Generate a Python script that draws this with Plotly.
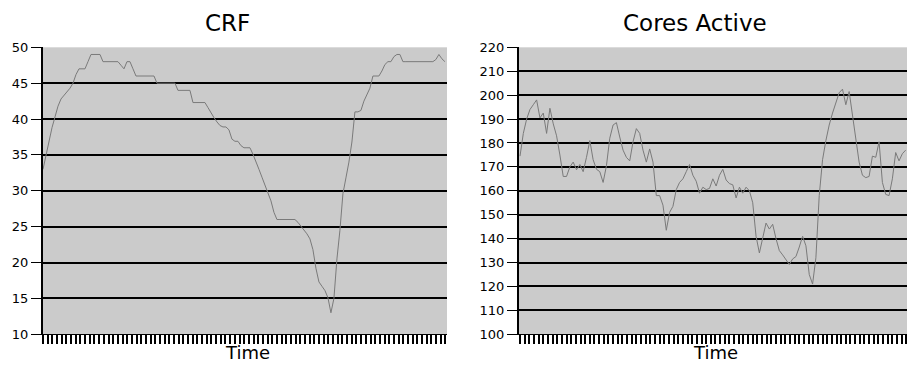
import plotly.graph_objects as go

# CRF samples (one per time step)
crf_values = [
    33, 35, 37, 38.8, 40.3, 41.8, 42.8, 43.3, 43.8, 44.3,
    45, 46.2, 47, 47, 47, 48, 49, 49, 49, 49,
    48, 48, 48, 48, 48, 48, 47.5, 47, 48, 48,
    47, 46, 46, 46, 46, 46, 46, 46, 45, 45,
    45, 45, 45, 45, 45, 44, 44, 44, 44, 44,
    42.3, 42.3, 42.3, 42.3, 42.3, 41.6, 40.8, 40.2, 39.6, 39.1,
    38.9, 38.9, 38.5, 37.2, 36.9, 36.9, 36.3, 36, 36, 36,
    35.1, 33.9, 33, 31.9, 30.7, 29.7, 28.6, 27, 26, 26,
    26, 26, 26, 26, 26, 25.6, 25.1, 24.5, 24, 23.3,
    21.8, 19.2, 17.3, 16.7, 16.1, 15.1, 13, 15, 20.5, 24.5,
    29.6, 31.8, 34, 36.8, 41, 41, 41.2, 42.5, 43.5, 44.3,
    46, 46, 46, 46.7, 47.6, 48, 48, 48.7, 49, 49,
    48, 48, 48, 48, 48, 48, 48, 48, 48, 48,
    48, 48.3, 49, 48.4, 48,
]

# Active core counts (one per time step)
cores_values = [
    174.5, 184, 190, 194, 196, 198, 190.5, 192.5, 184, 194.5,
    188, 183, 175, 166, 166, 170, 172, 168.8, 171, 168,
    174, 181, 173, 169, 168, 163.5, 170.5, 182, 187.5, 188.5,
    182.5, 177, 174, 172.5, 180.5, 186, 184, 177, 172, 177.5,
    172, 158, 158, 154, 143.5, 151, 153.5, 160.5, 163.5, 165,
    168, 171, 166.5, 164, 159, 161.5, 160.5, 161, 165, 162,
    166.5, 169, 164.5, 163, 162.5, 157, 161.5, 159, 161.5, 160,
    155, 141, 134, 141, 146.5, 144, 146, 140, 135, 133.2,
    131, 129.2, 131.5, 132.5, 136.5, 141, 137, 125, 121, 132,
    158, 173, 181, 187.5, 192.5, 197, 201, 202.5, 196, 201.5,
    191, 180.5, 172, 166.5, 165.5, 166, 174.5, 174, 180.5, 163.5,
    158.5, 158, 165, 176, 172.5, 175.5, 177,
]

crf_ticks = [10, 15, 20, 25, 30, 35, 40, 45, 50]
cores_ticks = [100, 110, 120, 130, 140, 150, 160, 170, 180, 190, 200, 210, 220]

W, H = 907, 373
BG = "#cbcbcb"
LINE = "#7a7a7a"
FONT = "DejaVu Sans"

fig = go.Figure()
fig.add_trace(go.Scatter(
    x=list(range(len(crf_values))), y=crf_values, mode="lines",
    line=dict(color=LINE, width=1), xaxis="x", yaxis="y", showlegend=False,
))
fig.add_trace(go.Scatter(
    x=list(range(len(cores_values))), y=cores_values, mode="lines",
    line=dict(color=LINE, width=1), xaxis="x2", yaxis="y2", showlegend=False,
))

# plot area spans rows 42..341 of the page
y_lo = (H - 341) / H
y_hi = (H - 42) / H

common_x = dict(
    showgrid=False, zeroline=False, showticklabels=False,
    ticks="outside", ticklen=9, tickwidth=2, tickcolor="black",
    showline=True, linecolor="black", linewidth=1,
)
common_y = dict(
    showgrid=True, gridcolor="black", gridwidth=2, zeroline=False,
    ticks="outside", ticklen=10, tickwidth=1, tickcolor="black",
    showline=True, linecolor="black", linewidth=2,
    tickfont=dict(family=FONT, size=13, color="black"),
)

fig.update_layout(
    width=W, height=H,
    margin=dict(l=0, r=0, t=0, b=0),
    paper_bgcolor="white", plot_bgcolor=BG,
    xaxis=dict(domain=[43 / W, 447 / W], range=[0, 134.7],
               tick0=0, dtick=1.56, anchor="y", **common_x),
    yaxis=dict(domain=[y_lo, y_hi], range=[10, 50], tickvals=crf_ticks,
               anchor="x", **common_y),
    xaxis2=dict(domain=[519 / W, 1], range=[-0.3, 116.4],
                tick0=0, dtick=1.4, anchor="y2", **common_x),
    yaxis2=dict(domain=[y_lo, y_hi], range=[100, 220], tickvals=cores_ticks,
                anchor="x2", **common_y),
    annotations=[
        dict(text="CRF", x=227 / W, y=(H - 17) / H, xref="paper", yref="paper",
             showarrow=False, xanchor="center", yanchor="middle",
             font=dict(family=FONT, size=23, color="black")),
        dict(text="Cores Active", x=695 / W, y=(H - 17) / H, xref="paper", yref="paper",
             showarrow=False, xanchor="center", yanchor="middle",
             font=dict(family=FONT, size=23, color="black")),
        dict(text="Time", x=247 / W, y=(H - 360) / H, xref="paper", yref="paper",
             showarrow=False, xanchor="center", yanchor="middle",
             font=dict(family=FONT, size=18, color="black")),
        dict(text="Time", x=715 / W, y=(H - 360) / H, xref="paper", yref="paper",
             showarrow=False, xanchor="center", yanchor="middle",
             font=dict(family=FONT, size=18, color="black")),
    ],
)

fig.write_html("out.html")
